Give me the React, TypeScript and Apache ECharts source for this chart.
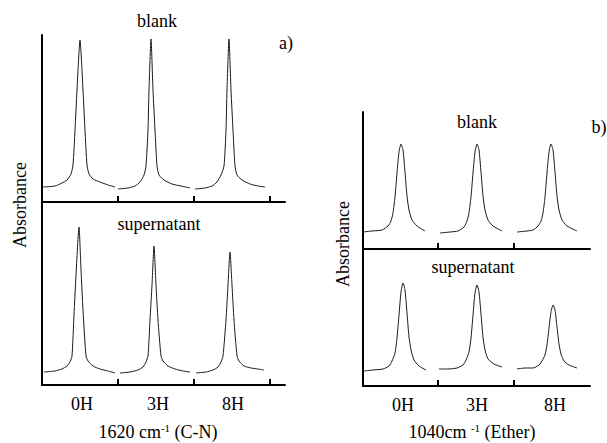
import React, { useEffect, useRef } from "react";
import * as echarts from "echarts";

// Time labels and tick positions (x in scan units)
const timeLabels = ["0H", "3H", "8H"];
const aTicks = [76, 152, 228];
const aLabelPos = [40, 116, 191];
const bTicks = [75, 151];
const bLabelPos = [40, 114, 192];

// Panel a) 1620 cm-1 (C-N) — blank
const aBlank0H = [[1,.15],[13,.16],[20,.19],[25,.22],[29,.28],[31,.37],[33,.72],[35,1.12],[38,1.62],[41,1.12],[43,.72],[45,.37],[47,.28],[51,.23],[58,.20],[66,.17],[73,.15]];
const aBlank3H = [[76,.13],[86,.14],[93,.16],[98,.20],[102,.27],[104,.36],[106,.72],[107,1.12],[109,1.63],[111,1.12],[113,.72],[115,.36],[117,.27],[122,.22],[130,.18],[139,.16],[148,.14]];
const aBlank8H = [[153,.13],[163,.14],[170,.16],[175,.20],[179,.27],[182,.36],[184,.72],[185,1.12],[187,1.63],[189,1.12],[191,.72],[193,.36],[195,.27],[200,.22],[208,.18],[216,.16],[223,.15]];
// Panel a) — supernatant
const aSup0H = [[2,.13],[13,.14],[20,.16],[25,.19],[28,.23],[30,.29],[32,.70],[34,1.10],[37,1.58],[39,1.15],[41,.75],[44,.29],[46,.24],[51,.19],[58,.16],[66,.14],[73,.12]];
const aSup3H = [[78,.12],[88,.13],[96,.15],[101,.18],[104,.23],[106,.29],[108,.65],[110,1.00],[112,1.39],[114,1.00],[116,.65],[119,.29],[121,.24],[126,.19],[133,.16],[141,.14],[148,.13]];
const aSup8H = [[154,.12],[164,.13],[171,.15],[176,.18],[179,.23],[181,.29],[184,.65],[186,1.00],[188,1.33],[190,1.00],[192,.65],[195,.29],[197,.24],[202,.19],[209,.17],[216,.16],[222,.15]];
// Panel b) 1040 cm-1 (Ether) — blank
const bBlank0H = [[0,.17],[9,.18],[19,.19],[25,.23],[28,.28],[30,.36],[32,.52],[34,.76],[36,.97],[38,1.05],[40,.99],[42,.77],[44,.53],[46,.39],[49,.29],[54,.23],[62,.18]];
const bBlank3H = [[77,.16],[87,.17],[95,.18],[101,.22],[104,.28],[106,.36],[108,.52],[110,.76],[112,.97],[114,1.05],[116,.99],[118,.77],[120,.53],[122,.39],[125,.29],[130,.23],[139,.18]];
const bBlank8H = [[154,.17],[164,.18],[170,.19],[175,.23],[178,.28],[180,.36],[182,.52],[184,.76],[186,.97],[188,1.05],[190,.99],[192,.77],[194,.53],[196,.39],[199,.29],[204,.23],[214,.18]];
// Panel b) — supernatant
const bSup0H = [[1,.15],[10,.16],[20,.17],[26,.20],[29,.25],[32,.33],[34,.48],[36,.71],[38,.94],[40,1.03],[42,.96],[44,.73],[46,.49],[48,.36],[51,.26],[56,.20],[63,.16]];
const bSup3H = [[76,.17],[85,.17],[94,.18],[100,.21],[103,.26],[106,.34],[108,.48],[110,.71],[112,.93],[114,1.01],[116,.94],[118,.72],[120,.49],[122,.36],[125,.27],[131,.22],[139,.19]];
const bSup8H = [[154,.17],[162,.18],[170,.18],[176,.21],[179,.25],[182,.31],[184,.41],[186,.58],[188,.74],[190,.81],[192,.76],[194,.59],[196,.42],[198,.32],[201,.25],[206,.21],[214,.18]];

const FONT = "Liberation Serif";

export default function App() {
  const ref = useRef<HTMLDivElement>(null);
  useEffect(() => {
    document.body.style.margin = "0";
    const chart = echarts.init(ref.current!, null, { renderer: "svg" });

    const grids = [
      { left: 42, top: 35, width: 243, height: 167 },
      { left: 42, top: 202, width: 243, height: 183 },
      { left: 363, top: 112, width: 227, height: 137 },
      { left: 363, top: 249, width: 227, height: 137 },
    ].map((g) => ({ ...g, containLabel: false, outerBoundsMode: "none" }));

    const axisLine = { show: true, onZero: false, lineStyle: { color: "#000", width: 2 } };
    const mkX = (gi: number, max: number, ticks: number[], labelPos: number[] | null) => ({
      type: "value",
      gridIndex: gi,
      min: 0,
      max,
      axisLine,
      splitLine: { show: false },
      axisTick: { show: true, inside: true, length: 6, customValues: ticks, lineStyle: { color: "#000", width: 2 } },
      axisLabel: labelPos
        ? {
            show: true,
            customValues: labelPos,
            margin: 10,
            color: "#000",
            fontFamily: FONT,
            fontSize: 18,
            formatter: (v: number) => {
              const i = labelPos.indexOf(v);
              return i >= 0 ? timeLabels[i] : "";
            },
          }
        : { show: false },
    });
    const mkY = (gi: number, max: number) => ({
      type: "value",
      gridIndex: gi,
      min: 0,
      max,
      axisLine,
      splitLine: { show: false },
      axisTick: { show: false },
      axisLabel: { show: false },
    });

    const traces = [
      [aBlank0H, 0], [aBlank3H, 0], [aBlank8H, 0],
      [aSup0H, 1], [aSup3H, 1], [aSup8H, 1],
      [bBlank0H, 2], [bBlank3H, 2], [bBlank8H, 2],
      [bSup0H, 3], [bSup3H, 3], [bSup8H, 3],
    ] as [number[][], number][];

    const txt = (text: string, x: number, y: number, rotation = 0) => ({
      type: "text",
      x,
      y,
      rotation,
      style: {
        text,
        fontFamily: FONT,
        fontSize: 18,
        fill: "#000",
        textAlign: "center",
        textVerticalAlign: "middle",
      },
    });
    const supRich = {
      sup: { fontSize: 11, fontFamily: FONT, verticalAlign: "top", lineHeight: 20 },
      base: { fontSize: 18, fontFamily: FONT, lineHeight: 20 },
    };
    const richTxt = (text: string, x: number, y: number) => ({
      type: "text",
      x,
      y,
      style: {
        text,
        rich: supRich,
        fontFamily: FONT,
        fontSize: 18,
        fill: "#000",
        textAlign: "center",
        textVerticalAlign: "middle",
      },
    });

    chart.setOption({
      animation: false,
      backgroundColor: "#fff",
      grid: grids,
      xAxis: [
        mkX(0, 243, aTicks, null),
        mkX(1, 243, aTicks, aLabelPos),
        mkX(2, 227, bTicks, null),
        mkX(3, 227, bTicks, bLabelPos),
      ],
      yAxis: [mkY(0, 1.67), mkY(1, 1.83), mkY(2, 1.37), mkY(3, 1.37)],
      series: traces.map(([d, gi]) => ({
        type: "line",
        xAxisIndex: gi,
        yAxisIndex: gi,
        data: d,
        showSymbol: false,
        smooth: 0.2,
        lineStyle: { color: "#1a1a1a", width: 1 },
      })),
      graphic: [
        txt("blank", 157, 21),
        txt("a)", 286, 43),
        txt("supernatant", 159, 224),
        txt("Absorbance", 20, 205, Math.PI / 2),
        txt("blank", 477, 122),
        txt("b)", 599, 127),
        txt("supernatant", 473, 267),
        txt("Absorbance", 343, 244, Math.PI / 2),
        richTxt("{base|1620 cm}{sup|-1}{base| (C-N)}", 158, 432),
        richTxt("{base|1040cm }{sup|-1}{base| (Ether)}", 472, 432),
      ],
    });
    return () => chart.dispose();
  }, []);
  return <div ref={ref} style={{ position: "absolute", left: 0, top: 0, width: 607, height: 443 }} />;
}
